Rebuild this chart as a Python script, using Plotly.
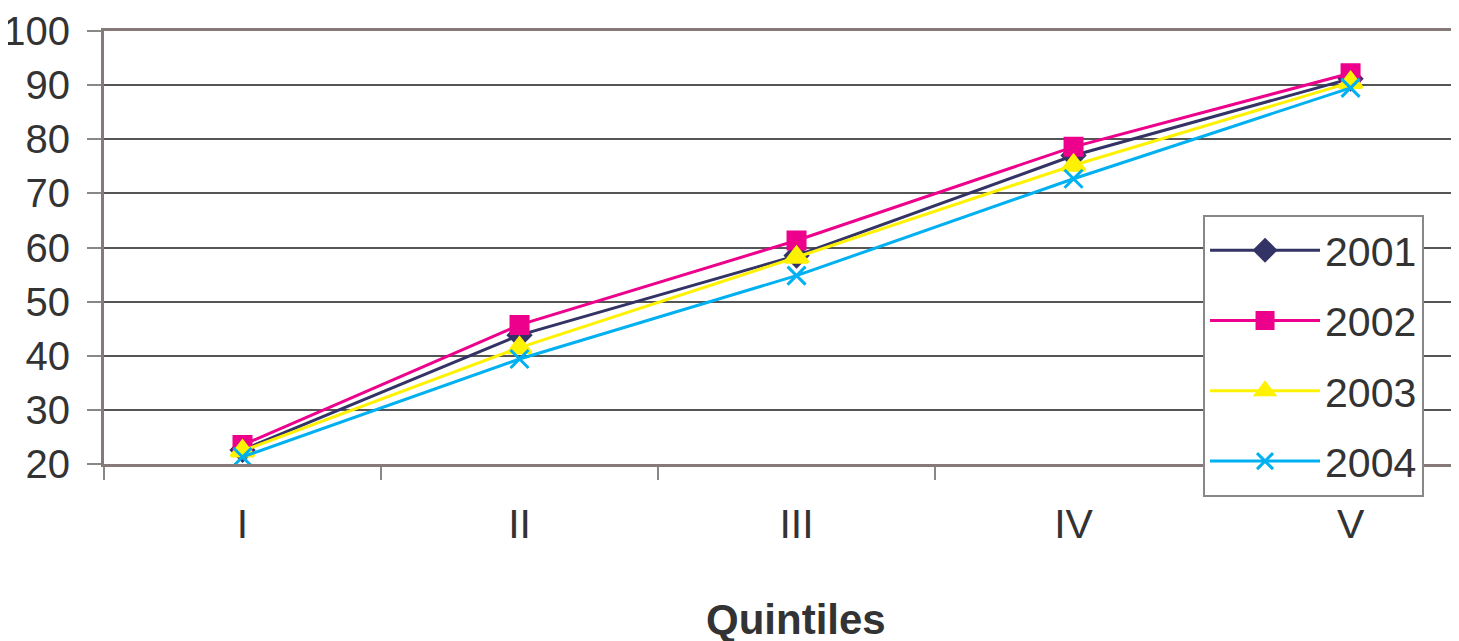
import plotly.graph_objects as go

quintiles = ["I", "II", "III", "IV", "V"]
years = ["2001", "2002", "2003", "2004"]
v2001 = [22.6, 43.8, 58.5, 77.0, 91.2]
v2002 = [23.5, 45.7, 61.3, 78.6, 92.2]
v2003 = [22.4, 41.5, 58.2, 75.2, 90.5]
v2004 = [21.3, 39.4, 54.8, 72.7, 89.5]
series = [v2001, v2002, v2003, v2004]

colors = ["#333366", "#EC008C", "#FFF200", "#00B0F0"]
symbols = ["diamond", "square", "triangle-up", "x-thin"]
sizes = [17, 17, 20, 18]

fig = go.Figure()
for i, (name, vals) in enumerate(zip(years, series)):
    fig.add_trace(go.Scatter(
        x=quintiles, y=vals, name=name, mode="lines+markers",
        legendgroup=name,
        line=dict(color=colors[i], width=3),
        marker=dict(symbol=symbols[i], size=sizes[i], color=colors[i],
                    line=dict(color=colors[i], width=3)),
    ))

font = "Liberation Sans, Arial, sans-serif"
fig.update_layout(
    width=1459, height=641,
    margin=dict(l=96, r=12, t=23, b=185),
    paper_bgcolor="white", plot_bgcolor="white",
    font=dict(family=font, size=40, color="#333333"),
    showlegend=True,
    legend=dict(x=0.8135, y=0.575, xanchor="left", yanchor="top",
                bgcolor="white", bordercolor="#888888", borderwidth=2,
                font=dict(size=41, color="#333333"),
                tracegroupgap=14, traceorder="grouped",
                itemwidth=110),
    xaxis=dict(type="category", range=[-0.5, 4.377], automargin=False,
               showgrid=False, showline=True, linecolor="#857a78",
               linewidth=3, mirror=True,
               ticks="outside", tickson="boundaries", ticklen=13,
               tickcolor="#888888", tickwidth=2, ticklabelstandoff=22,
               tickfont=dict(size=41, color="#333333")),
    yaxis=dict(range=[20, 100], dtick=10, tick0=20, automargin=False,
               showgrid=True, gridcolor="#555555", gridwidth=1.5,
               showline=True, linecolor="#857a78", linewidth=3,
               ticks="outside", ticklen=14, tickcolor="#888888",
               tickwidth=2, ticklabelstandoff=9,
               tickfont=dict(size=40, color="#333333"),
               zeroline=False),
    annotations=[dict(text="<b>Quintiles</b>", xref="paper", yref="paper",
                      x=0.512, y=-0.358, xanchor="center", yanchor="middle",
                      showarrow=False, font=dict(size=42, color="#333333"))],
)

fig.write_html("out.html")
